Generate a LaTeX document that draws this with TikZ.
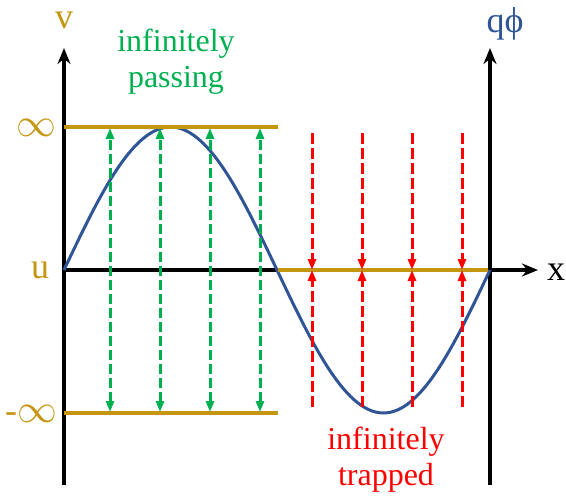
\documentclass[tikz,border=0pt]{standalone}
\usepackage{amsmath, amssymb}
\usepackage{graphicx}
\usepackage{fontspec}
\setmainfont{Liberation Serif}
\usepackage{tikz}
\usetikzlibrary{arrows.meta, positioning, calc}
\usepackage{xcolor}
\definecolor{phasegold}{RGB}{197,150,16}
\definecolor{phaseblue}{RGB}{47,85,151}
\definecolor{phasegreen}{RGB}{0,176,80}
\definecolor{phasered}{RGB}{255,0,0}
\newcommand{\biginf}{\scalebox{1.6}{$\infty$}}

\begin{document}
\begin{tikzpicture}[x=1pt, y=-1pt,
    axis/.style={line width=4.5pt, -{Stealth[length=16pt, width=13pt]}},
    level/.style={line width=3.5pt, phasegold},
    passing/.style={line width=3pt, phasegreen, dash pattern=on 10pt off 4pt,
                    {Triangle[length=11pt, width=8pt]}-{Triangle[length=11pt, width=8pt]}},
    trapped/.style={line width=3pt, phasered, dash pattern=on 11pt off 4pt,
                    -{Triangle[length=11pt, width=8pt]}},
    lab/.style={font=\fontsize{36}{38}\selectfont, inner sep=0pt},
    note/.style={font=\fontsize{32}{36}\selectfont, align=center, inner sep=0pt}]
  \useasboundingbox (0,0) rectangle (566,499);
  % Frame of the phase plane
  \coordinate (vbot) at (64,485);
  \coordinate (vtop) at (64,48);
  \coordinate (pbot) at (490,485);
  \coordinate (ptop) at (490,48);
  \coordinate (xleft) at (64,270);
  \coordinate (xright) at (538,270);
  \draw[axis] (vbot) -- (vtop);
  \draw[axis] (pbot) -- (ptop);
  \draw[axis] (xleft) -- (xright);
  % Potential
  \draw[line width=3pt, phaseblue, domain=0:426, samples=120]
    plot (64+\x, {270-143*sin(\x/426*360)});
  % Separatrix levels
  \coordinate (top0) at (64,127);
  \coordinate (top1) at (278,127);
  \coordinate (bot0) at (64,413);
  \coordinate (bot1) at (278,413);
  \coordinate (mid0) at (278,270);
  \coordinate (mid1) at (488,270);
  \draw[level] (top0) -- (top1);
  \draw[level] (bot0) -- (bot1);
  \draw[level] (mid0) -- (mid1);
  % Passing orbits
  \foreach \x in {110,160,210,260} {
    \coordinate (gup\x) at (\x,128);
    \coordinate (gdn\x) at (\x,412);
    \draw[passing] (gdn\x) -- (gup\x);
  }
  % Trapped orbits
  \foreach \x in {312,362,412,462} {
    \coordinate (rup\x) at (\x,133);
    \coordinate (rmid\x) at (\x,270);
    \coordinate (rdn\x) at (\x,407);
    \draw[trapped] (rup\x) -- (rmid\x);
    \draw[trapped] (rdn\x) -- (rmid\x);
  }
  % Labels
  \node[lab, phasegold] (vlab) at (64,20) {v};
  \node[lab, phasegold] (inflab) at (36,128) {\biginf};
  \node[lab, phasegold] (ulab) at (40,270) {u};
  \node[lab, phasegold] (minflab) at (31,414) {-\biginf};
  \node[lab] (xlab) at (556,272) {x};
  \node[lab, phaseblue] (qphilab) at (505,24) {qϕ};
  \node[note, phasegreen] (passlab) at (176,62) {infinitely\\passing};
  \node[note, phasered] (traplab) at (386,460) {infinitely\\trapped};
\end{tikzpicture}
\end{document}
